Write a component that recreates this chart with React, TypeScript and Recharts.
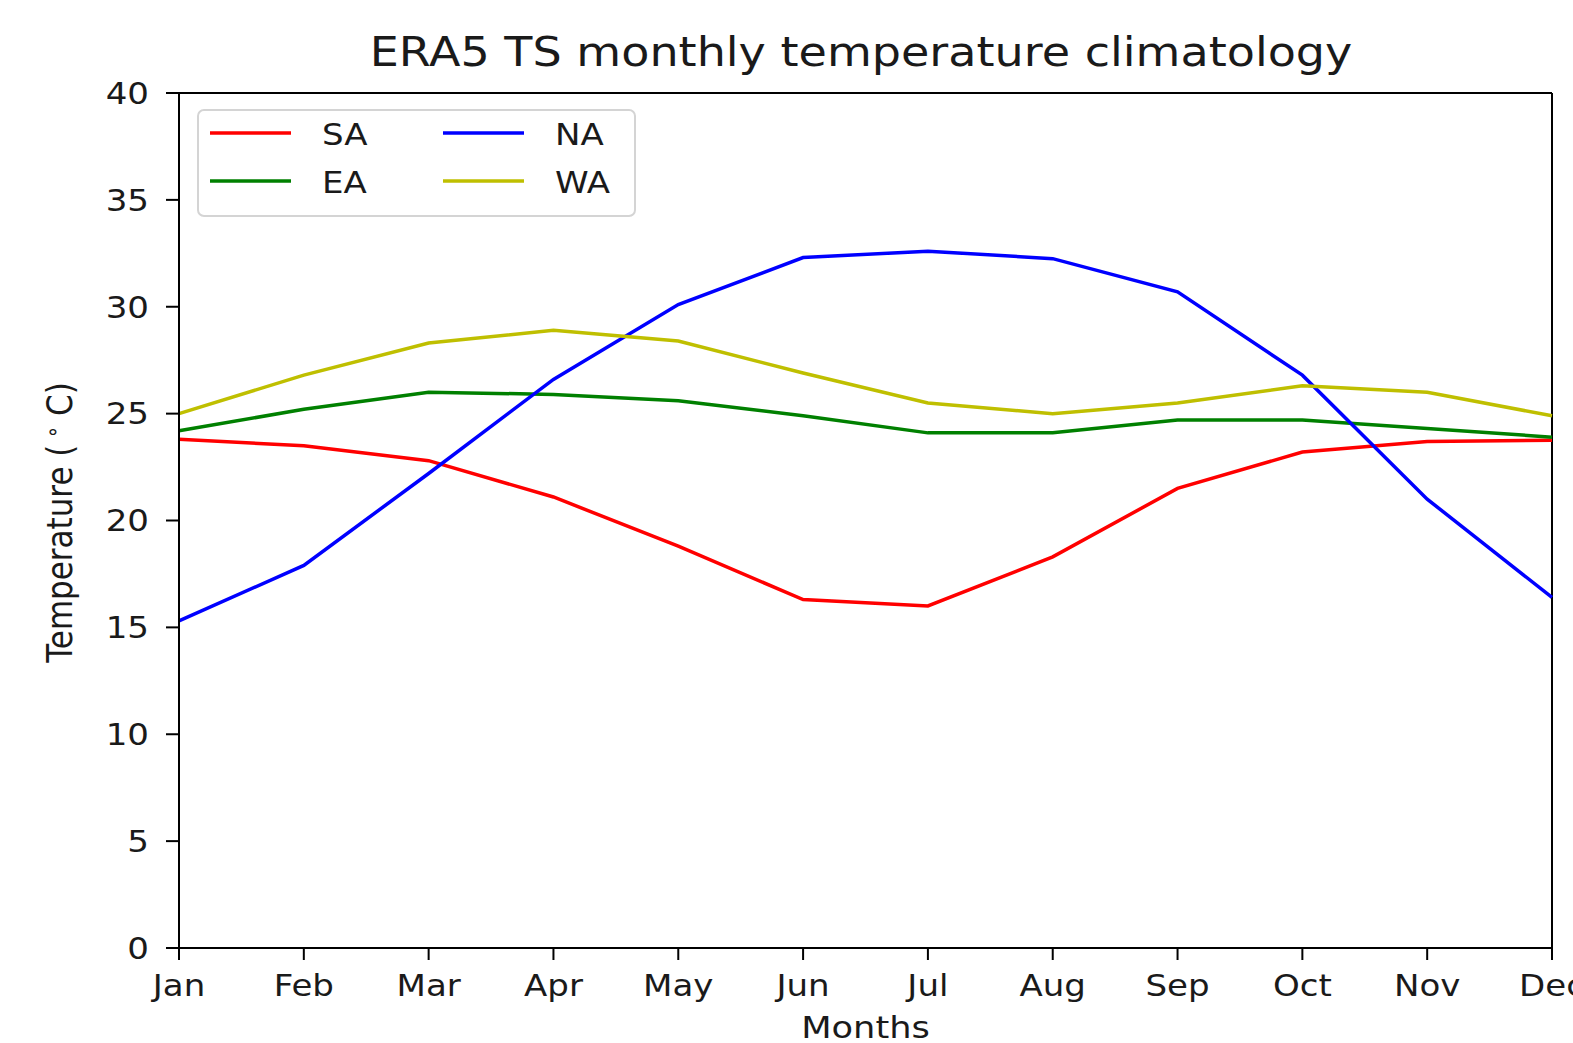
import React from "react";
import { LineChart, Line, XAxis, YAxis, ReferenceLine, Legend } from "recharts";

const months = ["Jan", "Feb", "Mar", "Apr", "May", "Jun", "Jul", "Aug", "Sep", "Oct", "Nov", "Dec"];
const saValues = [23.8, 23.5, 22.8, 21.1, 18.8, 16.3, 16.0, 18.3, 21.5, 23.2, 23.7, 23.75];
const eaValues = [24.2, 25.2, 26.0, 25.9, 25.6, 24.9, 24.1, 24.1, 24.7, 24.7, 24.3, 23.9];
const naValues = [15.3, 17.9, 22.2, 26.6, 30.1, 32.3, 32.6, 32.25, 30.7, 26.8, 21.0, 16.4];
const waValues = [25.0, 26.8, 28.3, 28.9, 28.4, 26.9, 25.5, 25.0, 25.5, 26.3, 26.0, 24.9];
const yTicks = [0, 5, 10, 15, 20, 25, 30, 35, 40];

const series = [
  { key: "SA", color: "#ff0000" },
  { key: "EA", color: "#008000" },
  { key: "NA", color: "#0000ff" },
  { key: "WA", color: "#bfbf00" },
];

const data = months.map((m, i) => ({
  month: m,
  SA: saValues[i],
  EA: eaValues[i],
  NA: naValues[i],
  WA: waValues[i],
}));

const FONT = "'DejaVu Sans', sans-serif";
const INK = "#1a1a1a";
const SX = 1.135; // the figure is stretched sideways

function YTick(props: any) {
  const { x, y, payload } = props;
  return (
    <g transform={`translate(${x - 17},${y})`}>
      <text transform={`scale(${SX},1)`} textAnchor="end" dy="0.36em" fontSize={30} fontFamily={FONT} fill={INK}>
        {payload.value}
      </text>
    </g>
  );
}

function XTick(props: any) {
  const { x, y, payload } = props;
  return (
    <g transform={`translate(${x},${y + 36})`}>
      <text transform={`scale(${SX},1)`} textAnchor="middle" fontSize={30} fontFamily={FONT} fill={INK}>
        {payload.value}
      </text>
    </g>
  );
}

function LegendBox() {
  const rows = [
    [series[0], series[2]],
    [series[1], series[3]],
  ];
  return (
    <svg width={440} height={109} style={{ display: "block" }}>
      <rect x={1} y={1} width={437} height={106} rx={6} fill="#fff" fillOpacity={0.8} stroke="#d4d4d4" strokeWidth={2} />
      {rows.map((row, r) =>
        row.map((s, c) => {
          const lx = c === 0 ? 13 : 246;
          const ly = r === 0 ? 24 : 72;
          return (
            <g key={s.key}>
              <line x1={lx} x2={lx + 81} y1={ly} y2={ly} stroke={s.color} strokeWidth={3.5} />
              <g transform={`translate(${lx + 112},${ly + 12})`}>
                <text transform={`scale(${SX},1)`} fontSize={30} fontFamily={FONT} fill={INK}>
                  {s.key}
                </text>
              </g>
            </g>
          );
        })
      )}
    </svg>
  );
}

export default function App() {
  return (
    <div style={{ position: "absolute", left: 0, top: 0, width: 1573, height: 1043, background: "#fff" }}>
      <div
        style={{
          position: "absolute",
          left: 861,
          top: 73,
          transform: `translate(-50%, -100%) scaleX(${SX})`,
          transformOrigin: "50% 100%",
          fontFamily: FONT,
          fontSize: 40.6,
          lineHeight: "41px",
          color: INK,
          whiteSpace: "nowrap",
          zIndex: 2,
        }}
      >
        ERA5 TS monthly temperature climatology
      </div>
      <LineChart width={1573} height={1043} data={data} margin={{ top: 93, right: 21, bottom: 0, left: 0 }}>
        <XAxis
          dataKey="month"
          height={95}
          interval={0}
          tickSize={12}
          tickMargin={0}
          tick={<XTick />}
          axisLine={{ stroke: "#000", strokeWidth: 2 }}
          tickLine={{ stroke: "#000", strokeWidth: 2 }}
          label={{
            content: (p: any) => {
              const vb = p.viewBox || { x: 179, y: 948, width: 1373 };
              return (
                <g transform={`translate(${vb.x + vb.width / 2},1038)`}>
                  <text transform={`scale(${SX},1)`} textAnchor="middle" fontSize={31} fontFamily={FONT} fill={INK}>
                    Months
                  </text>
                </g>
              );
            },
          }}
        />
        <YAxis
          width={179}
          domain={[0, 40]}
          ticks={yTicks}
          interval={0}
          tickSize={13}
          tickMargin={0}
          tick={<YTick />}
          axisLine={{ stroke: "#000", strokeWidth: 2 }}
          tickLine={{ stroke: "#000", strokeWidth: 2 }}
          label={{
            content: (p: any) => {
              const vb = p.viewBox || { y: 93, height: 855 };
              return (
                <g transform={`translate(72,${vb.y + vb.height / 2 + 2}) scale(${SX},1) rotate(-90)`}>
                  <text textAnchor="middle" fontSize={31} fontFamily={FONT} fill={INK}>
                    Temperature (
                    <tspan fontSize={20} dy={-11}> ∘</tspan>
                    <tspan dy={11}> C)</tspan>
                  </text>
                </g>
              );
            },
          }}
        />
        <ReferenceLine y={40} stroke="#000" strokeWidth={2} />
        <ReferenceLine x="Dec" stroke="#000" strokeWidth={2} />
        {series.map((s) => (
          <Line
            key={s.key}
            dataKey={s.key}
            type="linear"
            stroke={s.color}
            strokeWidth={3.5}
            dot={false}
            activeDot={false}
            isAnimationActive={false}
          />
        ))}
        <Legend
          layout="horizontal"
          verticalAlign="middle"
          align="center"
          wrapperStyle={{ left: 197, top: 109, width: 440, height: 109 }}
          content={() => <LegendBox />}
        />
      </LineChart>
    </div>
  );
}
